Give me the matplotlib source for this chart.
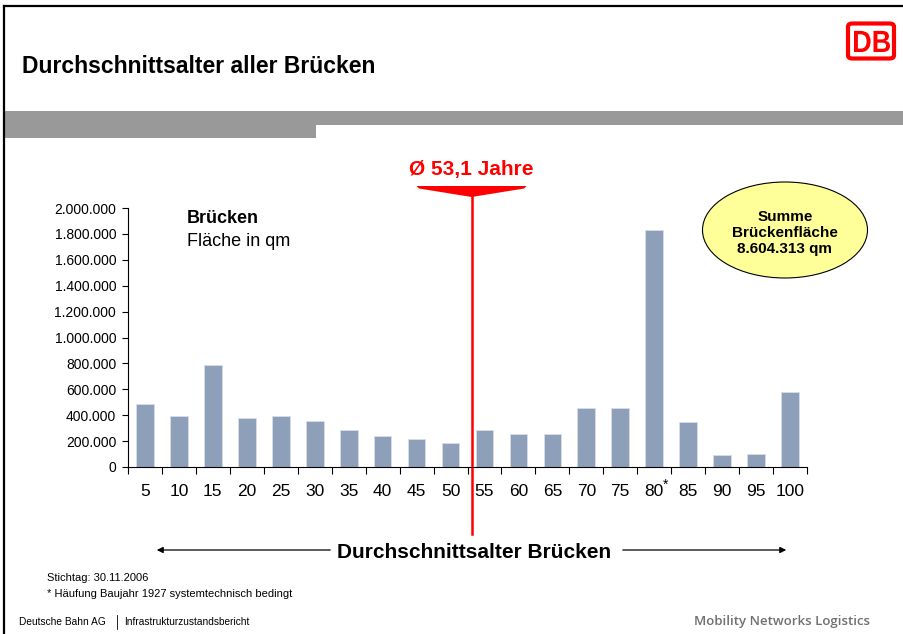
import matplotlib.pyplot as plt
import matplotlib.transforms as mtransforms
from matplotlib.patches import Ellipse, FancyBboxPatch, Polygon, Rectangle, FancyArrowPatch, PathPatch
from matplotlib.lines import Line2D
from matplotlib.textpath import TextPath
from matplotlib.font_manager import FontProperties

plt.rcParams["font.family"] = ["Liberation Sans", "DejaVu Sans"]

# data
ages = [5, 10, 15, 20, 25, 30, 35, 40, 45, 50, 55, 60, 65, 70, 75, 80, 85, 90, 95, 100]
age_labels = [str(a) for a in ages]
starred_age = 80
area_qm = [485000, 390000, 785000, 378000, 390000, 355000, 285000, 240000, 220000, 185000,
           285000, 255000, 255000, 455000, 455000, 1830000, 345000, 95000, 100000, 580000]
avg_age = 53.1
total_area = "8.604.313"
y_ticks = [0, 200000, 400000, 600000, 800000, 1000000, 1200000, 1400000, 1600000, 1800000, 2000000]

W, H = 904, 634
fig = plt.figure(figsize=(W / 100, H / 100), dpi=100)


def fx(px):
    return px / W


def fy(py):
    return 1 - py / H


# slide frame + grey band
fig.add_artist(Line2D([fx(4), 1], [fy(6), fy(6)], color="black", lw=1.6))
fig.add_artist(Line2D([fx(4), fx(4)], [fy(6), 0], color="black", lw=1.6))
fig.add_artist(Rectangle((fx(5), fy(125)), 1 - fx(5), fy(111) - fy(125), color="#999999", lw=0))
fig.add_artist(Rectangle((fx(5), fy(138)), fx(316) - fx(5), fy(125) - fy(138), color="#999999", lw=0))

fig.text(fx(22), fy(73), "Durchschnittsalter aller Brücken", fontsize=16.5, fontweight="bold",
         va="baseline", ha="left")

# DB logo
fig.add_artist(FancyBboxPatch((fx(848), fy(58.5)), fx(894) - fx(848), fy(23.5) - fy(58.5),
                              boxstyle="round,pad=0,rounding_size=0.005",
                              facecolor="white", edgecolor="#FF0000", lw=3))
tp = TextPath((0, 0), "DB", size=30.7, prop=FontProperties(family="Liberation Sans", weight="bold"))
bb = tp.get_extents()
sx = 36 / bb.width
logo_tr = (mtransforms.Affine2D().translate(-bb.x0, -bb.y0).scale(sx, 1.0)
           .translate(854, H - 52) + mtransforms.IdentityTransform())
fig.add_artist(PathPatch(tp, transform=logo_tr, color="#FF0000", lw=0))

# bar chart
ax = fig.add_axes([fx(128), fy(467), (807 - 128) / W, (467 - 208) / H])
x = list(range(len(ages)))
ax.bar(x, area_qm, width=0.52, color="#8E9FBA", edgecolor="#D8DEE8", linewidth=0.6)
ax.set_xlim(-0.5, len(ages) - 0.5)
ax.set_ylim(0, 2000000)
ax.set_xticks(x)
ax.set_xticklabels(age_labels, fontsize=12.5)
ax.set_xticks([i - 0.5 for i in range(len(ages) + 1)], minor=True)
ax.tick_params(axis="x", which="major", length=0, pad=12.5)
ax.tick_params(axis="x", which="minor", length=5, direction="out", width=0.8)
ax.set_yticks(y_ticks)
ax.set_yticklabels([f"{v:,.0f}".replace(",", ".") for v in y_ticks], fontsize=10)
ax.tick_params(axis="y", length=4, width=0.8, pad=4.5)
for s in ["top", "right"]:
    ax.spines[s].set_visible(False)
for s in ["left", "bottom"]:
    ax.spines[s].set_linewidth(0.8)
    ax.spines[s].set_color("black")

# asterisk on the 80 label
blend = mtransforms.blended_transform_factory(ax.transData, fig.transFigure)
ax.text(ages.index(starred_age) + 0.32, fy(485), "*", transform=blend, fontsize=10,
        ha="center", va="center")

ax.text(0.087, 0.96, "Brücken", transform=ax.transAxes, fontsize=13, fontweight="bold", va="center")
ax.text(0.087, 0.87, "Fläche in qm", transform=ax.transAxes, fontsize=13, va="center")

# average marker
avg_x = (avg_age - ages[0]) / (ages[1] - ages[0])
ax.add_line(Line2D([avg_x, avg_x], [fy(194), fy(534)], color="#FF0000", lw=1.8,
                   transform=blend, clip_on=False))
ax.add_patch(Polygon([(avg_x - 1.62, fy(186)), (avg_x + 1.62, fy(186)),
                      (avg_x + 1.55, fy(188.5)), (avg_x, fy(197)), (avg_x - 1.55, fy(188.5))],
                     closed=True, color="#FF0000", lw=0, transform=blend, clip_on=False))
ax.text(avg_x, fy(169), f"Ø {avg_age:.1f}".replace(".", ",") + " Jahre", transform=blend,
        color="#FF0000", fontsize=15, fontweight="bold", ha="center", va="center")

# sum ellipse
fig.add_artist(Ellipse((fx(785), fy(230)), fx(165), 96 / H, facecolor="#FFFF99",
                       edgecolor="black", lw=0.8))
fig.text(fx(785), fy(233), f"Summe\nBrückenfläche\n{total_area} qm", fontsize=11,
         fontweight="bold", ha="center", va="center", linespacing=1.2)

# bottom axis caption with arrows
fig.text(fx(474), fy(553), "Durchschnittsalter Brücken", fontsize=15, fontweight="bold",
         ha="center", va="center")
fig.add_artist(FancyArrowPatch((fx(333), fy(550)), (fx(154), fy(550)), transform=fig.transFigure,
                               arrowstyle="-|>", mutation_scale=9, color="black", lw=0.9))
fig.add_artist(FancyArrowPatch((fx(620), fy(550)), (fx(789), fy(550)), transform=fig.transFigure,
                               arrowstyle="-|>", mutation_scale=9, color="black", lw=0.9))

# notes and footer
fig.text(fx(47), fy(578), "Stichtag: 30.11.2006", fontsize=8, va="center")
fig.text(fx(47), fy(594), "* Häufung Baujahr 1927 systemtechnisch bedingt", fontsize=8, va="center")
fig.text(fx(19), fy(622), "Deutsche Bahn AG", fontsize=7.3, va="center")
fig.add_artist(Line2D([fx(117), fx(117)], [fy(615), fy(629)], color="black", lw=0.6))
fig.text(fx(124), fy(622), "Infrastrukturzustandsbericht", fontsize=7.3, va="center")
fig.text(fx(870), fy(622), "Mobility Networks Logistics", fontsize=9.5, fontweight="semibold",
         color="#707070", ha="right", va="center", family=["Open Sans", "DejaVu Sans"])

fig.savefig("out.png", dpi=100)
